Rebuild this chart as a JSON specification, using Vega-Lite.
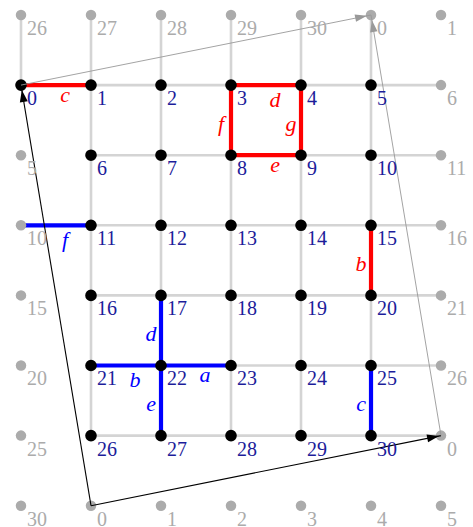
{
  "$schema": "https://vega.github.io/schema/vega-lite/v6.json",
  "width": 473,
  "height": 527,
  "padding": 0,
  "autosize": {"type": "none"},
  "background": "white",
  "config": {"view": {"stroke": null}},
  "resolve": {"scale": {"color": "independent"}},
  "datasets": {
    "grid": [
      {"c": 0, "r": 1, "c2": 6, "r2": 1},
      {"c": 1, "r": 2, "c2": 6, "r2": 2},
      {"c": 1, "r": 3, "c2": 6, "r2": 3},
      {"c": 1, "r": 4, "c2": 6, "r2": 4},
      {"c": 1, "r": 5, "c2": 6, "r2": 5},
      {"c": 1, "r": 6, "c2": 6, "r2": 6},
      {"c": 0, "r": 0, "c2": 0, "r2": 1},
      {"c": 1, "r": 0, "c2": 1, "r2": 6},
      {"c": 2, "r": 0, "c2": 2, "r2": 6},
      {"c": 3, "r": 0, "c2": 3, "r2": 6},
      {"c": 4, "r": 0, "c2": 4, "r2": 6},
      {"c": 5, "r": 0, "c2": 5, "r2": 6}
    ],
    "segs": [
      {"c": 0, "r": 1, "c2": 1, "r2": 1, "set": "A", "label": "c", "o": "h"},
      {"c": 3, "r": 1, "c2": 4, "r2": 1, "set": "A", "label": "d", "o": "h"},
      {"c": 3, "r": 2, "c2": 4, "r2": 2, "set": "A", "label": "e", "o": "h"},
      {"c": 3, "r": 1, "c2": 3, "r2": 2, "set": "A", "label": "f", "o": "v"},
      {"c": 4, "r": 1, "c2": 4, "r2": 2, "set": "A", "label": "g", "o": "v"},
      {"c": 5, "r": 3, "c2": 5, "r2": 4, "set": "A", "label": "b", "o": "v"},
      {"c": 0, "r": 3, "c2": 1, "r2": 3, "set": "B", "label": "f", "o": "h"},
      {"c": 1, "r": 5, "c2": 2, "r2": 5, "set": "B", "label": "b", "o": "h"},
      {"c": 2, "r": 5, "c2": 3, "r2": 5, "set": "B", "label": "a", "o": "h"},
      {"c": 2, "r": 4, "c2": 2, "r2": 5, "set": "B", "label": "d", "o": "v"},
      {"c": 2, "r": 5, "c2": 2, "r2": 6, "set": "B", "label": "e", "o": "v"},
      {"c": 5, "r": 5, "c2": 5, "r2": 6, "set": "B", "label": "c", "o": "v"}
    ],
    "arrows": [
      {"id": 1, "c": 1, "r": 7, "c2": 0, "r2": 1},
      {"id": 2, "c": 1, "r": 7, "c2": 6, "r2": 6},
      {"id": 3, "c": 0, "r": 1, "c2": 5, "r2": 0},
      {"id": 4, "c": 6, "r": 6, "c2": 5, "r2": 0}
    ],
    "pts": [
      {"c": 0, "r": 1, "n": "0", "k": "b"},
      {"c": 1, "r": 1, "n": "1", "k": "b"},
      {"c": 2, "r": 1, "n": "2", "k": "b"},
      {"c": 3, "r": 1, "n": "3", "k": "b"},
      {"c": 4, "r": 1, "n": "4", "k": "b"},
      {"c": 5, "r": 1, "n": "5", "k": "b"},
      {"c": 1, "r": 2, "n": "6", "k": "b"},
      {"c": 2, "r": 2, "n": "7", "k": "b"},
      {"c": 3, "r": 2, "n": "8", "k": "b"},
      {"c": 4, "r": 2, "n": "9", "k": "b"},
      {"c": 5, "r": 2, "n": "10", "k": "b"},
      {"c": 1, "r": 3, "n": "11", "k": "b"},
      {"c": 2, "r": 3, "n": "12", "k": "b"},
      {"c": 3, "r": 3, "n": "13", "k": "b"},
      {"c": 4, "r": 3, "n": "14", "k": "b"},
      {"c": 5, "r": 3, "n": "15", "k": "b"},
      {"c": 1, "r": 4, "n": "16", "k": "b"},
      {"c": 2, "r": 4, "n": "17", "k": "b"},
      {"c": 3, "r": 4, "n": "18", "k": "b"},
      {"c": 4, "r": 4, "n": "19", "k": "b"},
      {"c": 5, "r": 4, "n": "20", "k": "b"},
      {"c": 1, "r": 5, "n": "21", "k": "b"},
      {"c": 2, "r": 5, "n": "22", "k": "b"},
      {"c": 3, "r": 5, "n": "23", "k": "b"},
      {"c": 4, "r": 5, "n": "24", "k": "b"},
      {"c": 5, "r": 5, "n": "25", "k": "b"},
      {"c": 1, "r": 6, "n": "26", "k": "b"},
      {"c": 2, "r": 6, "n": "27", "k": "b"},
      {"c": 3, "r": 6, "n": "28", "k": "b"},
      {"c": 4, "r": 6, "n": "29", "k": "b"},
      {"c": 5, "r": 6, "n": "30", "k": "b"},
      {"c": 0, "r": 0, "n": "26", "k": "g"},
      {"c": 1, "r": 0, "n": "27", "k": "g"},
      {"c": 2, "r": 0, "n": "28", "k": "g"},
      {"c": 3, "r": 0, "n": "29", "k": "g"},
      {"c": 4, "r": 0, "n": "30", "k": "g"},
      {"c": 5, "r": 0, "n": "0", "k": "g"},
      {"c": 6, "r": 0, "n": "1", "k": "g"},
      {"c": 0, "r": 7, "n": "30", "k": "g"},
      {"c": 1, "r": 7, "n": "0", "k": "g"},
      {"c": 2, "r": 7, "n": "1", "k": "g"},
      {"c": 3, "r": 7, "n": "2", "k": "g"},
      {"c": 4, "r": 7, "n": "3", "k": "g"},
      {"c": 5, "r": 7, "n": "4", "k": "g"},
      {"c": 6, "r": 7, "n": "5", "k": "g"},
      {"c": 0, "r": 2, "n": "5", "k": "g"},
      {"c": 0, "r": 3, "n": "10", "k": "g"},
      {"c": 0, "r": 4, "n": "15", "k": "g"},
      {"c": 0, "r": 5, "n": "20", "k": "g"},
      {"c": 0, "r": 6, "n": "25", "k": "g"},
      {"c": 6, "r": 1, "n": "6", "k": "g"},
      {"c": 6, "r": 2, "n": "11", "k": "g"},
      {"c": 6, "r": 3, "n": "16", "k": "g"},
      {"c": 6, "r": 4, "n": "21", "k": "g"},
      {"c": 6, "r": 5, "n": "26", "k": "g"},
      {"c": 6, "r": 6, "n": "0", "k": "g"}
    ]
  },
  "encoding": {
    "x": {"field": "c", "type": "quantitative", "axis": null, "scale": {"domain": [-0.3, 6.457], "nice": false, "zero": false}},
    "y": {"field": "r", "type": "quantitative", "axis": null, "scale": {"domain": [-0.214, 7.304], "nice": false, "zero": false, "reverse": true}}
  },
  "layer": [
    {
      "data": {"name": "grid"},
      "mark": {"type": "rule", "color": "#d4d4d4", "strokeWidth": 2.6},
      "encoding": {"x2": {"field": "c2"}, "y2": {"field": "r2"}}
    },
    {
      "data": {"name": "segs"},
      "mark": {"type": "rule", "strokeWidth": 4.2},
      "encoding": {
        "x2": {"field": "c2"}, "y2": {"field": "r2"},
        "color": {"field": "set", "type": "nominal", "legend": null, "scale": {"domain": ["A", "B"], "range": ["#ff0000", "#0000ff"]}}
      }
    },
    {
      "data": {"name": "pts"},
      "transform": [{"filter": "datum.k == 'g'"}],
      "mark": {"type": "circle", "color": "#ababab", "opacity": 1, "size": 110}
    },
    {
      "data": {"name": "pts"},
      "transform": [{"filter": "datum.k == 'b'"}],
      "mark": {"type": "circle", "color": "#000000", "opacity": 1, "size": 135}
    },
    {
      "data": {"name": "arrows"},
      "transform": [{"filter": "datum.id <= 2"}],
      "mark": {"type": "rule", "color": "#000000", "strokeWidth": 1.1},
      "encoding": {"x2": {"field": "c2"}, "y2": {"field": "r2"}}
    },
    {
      "data": {"name": "arrows"},
      "transform": [{"filter": "datum.id >= 3"}],
      "mark": {"type": "rule", "color": "#999999", "strokeWidth": 0.9},
      "encoding": {"x2": {"field": "c2"}, "y2": {"field": "r2"}}
    },
    {
      "data": {"name": "arrows"},
      "transform": [{"filter": "datum.id == 1"}],
      "mark": {"type": "point", "shape": "M-5,0L-17,-4L-17,4Z", "size": 4, "angle": 260.56, "filled": true, "color": "#000000", "opacity": 1, "strokeWidth": 0},
      "encoding": {"x": {"field": "c2", "type": "quantitative"}, "y": {"field": "r2", "type": "quantitative"}}
    },
    {
      "data": {"name": "arrows"},
      "transform": [{"filter": "datum.id == 2"}],
      "mark": {"type": "point", "shape": "M-2,0L-14,-4L-14,4Z", "size": 4, "angle": 348.69, "filled": true, "color": "#000000", "opacity": 1, "strokeWidth": 0},
      "encoding": {"x": {"field": "c2", "type": "quantitative"}, "y": {"field": "r2", "type": "quantitative"}}
    },
    {
      "data": {"name": "arrows"},
      "transform": [{"filter": "datum.id == 3"}],
      "mark": {"type": "point", "shape": "M-4,0L-16,-3.7L-16,3.7Z", "size": 4, "angle": 348.69, "filled": true, "color": "#999999", "opacity": 1, "strokeWidth": 0},
      "encoding": {"x": {"field": "c2", "type": "quantitative"}, "y": {"field": "r2", "type": "quantitative"}}
    },
    {
      "data": {"name": "arrows"},
      "transform": [{"filter": "datum.id == 4"}],
      "mark": {"type": "point", "shape": "M-5,0L-17,-3.7L-17,3.7Z", "size": 4, "angle": 260.56, "filled": true, "color": "#999999", "opacity": 1, "strokeWidth": 0},
      "encoding": {"x": {"field": "c2", "type": "quantitative"}, "y": {"field": "r2", "type": "quantitative"}}
    },
    {
      "data": {"name": "pts"},
      "mark": {"type": "text", "font": "Liberation Serif", "fontSize": 20, "align": "left", "baseline": "alphabetic", "dx": 6, "dy": 20},
      "encoding": {
        "text": {"field": "n"},
        "color": {"field": "k", "type": "nominal", "legend": null, "scale": {"domain": ["b", "g"], "range": ["#1c1c9a", "#ababab"]}}
      }
    },
    {
      "data": {"name": "segs"},
      "transform": [{"filter": "datum.o == 'h' && indexof(['b','d','f'], datum.label) < 0"}],
      "mark": {"type": "text", "font": "Liberation Serif", "fontStyle": "italic", "fontSize": 22, "align": "center", "baseline": "middle", "dx": 44, "dy": 10},
      "encoding": {
        "text": {"field": "label"},
        "color": {"field": "set", "type": "nominal", "legend": null, "scale": {"domain": ["A", "B"], "range": ["#ff0000", "#0000ff"]}}
      }
    },
    {
      "data": {"name": "segs"},
      "transform": [{"filter": "datum.o == 'h' && indexof(['b','d','f'], datum.label) >= 0"}],
      "mark": {"type": "text", "font": "Liberation Serif", "fontStyle": "italic", "fontSize": 22, "align": "center", "baseline": "middle", "dx": 44, "dy": 15},
      "encoding": {
        "text": {"field": "label"},
        "color": {"field": "set", "type": "nominal", "legend": null, "scale": {"domain": ["A", "B"], "range": ["#ff0000", "#0000ff"]}}
      }
    },
    {
      "data": {"name": "segs"},
      "transform": [{"filter": "datum.o == 'v'"}],
      "mark": {"type": "text", "font": "Liberation Serif", "fontStyle": "italic", "fontSize": 22, "align": "center", "baseline": "middle", "dx": -10, "dy": 39},
      "encoding": {
        "text": {"field": "label"},
        "color": {"field": "set", "type": "nominal", "legend": null, "scale": {"domain": ["A", "B"], "range": ["#ff0000", "#0000ff"]}}
      }
    }
  ]
}
